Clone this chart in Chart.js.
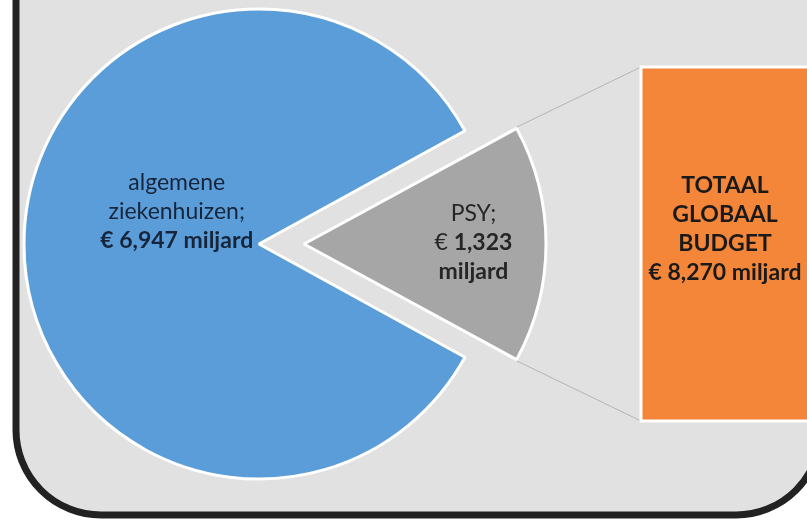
<!DOCTYPE html>
<html lang="nl">
<head>
  <meta charset="UTF-8">
  <title>Globaal budget</title>
  <script src="https://cdn.jsdelivr.net/npm/chart.js"></script>
  <style>
    html, body { margin: 0; padding: 0; background: #fff; }
    canvas { display: block; }
  </style>
</head>
<body>
  <canvas id="budgetChart" width="807" height="520"></canvas>

  <script>
    // data (miljard euro)
    const categories = ['algemene ziekenhuizen', 'PSY'];
    const budget = [6.947, 1.323];
    const totalBudget = 8.270;
    const totalLines = ['TOTAAL', 'GLOBAAL', 'BUDGET'];
    const sliceColors = ['#5B9DD9', '#A6A6A6'];

    const FONT = 'Lato, "Open Sans", sans-serif';
    const fmt = v => v.toFixed(3).replace('.', ',');

    // explode the PSY slice, centred on the right side
    const psyAngle = budget[1] / (budget[0] + budget[1]) * 360;

    // orange total box
    const box = { x: 641, y: 67, w: 170, h: 354 };

    function sliceGeom(arc) {
      const p = arc.getProps(['x', 'y', 'startAngle', 'endAngle', 'outerRadius', 'circumference']);
      const o = (arc.options.offset || 0) / 4;
      const mid = (p.startAngle + p.endAngle) / 2;
      const fix = 1 - Math.sin(Math.min(Math.PI, p.circumference || 0));
      return {
        cx: p.x + Math.cos(mid) * o,
        cy: p.y + Math.sin(mid) * o,
        r: p.outerRadius + o * fix,
        start: p.startAngle, end: p.endAngle, mid
      };
    }

    // draw a line made of [text, bold] parts, centred on x
    function drawParts(ctx, parts, x, y, size, color) {
      const fonts = parts.map(p => (p[1] ? 'bold ' : '') + size + 'px ' + FONT);
      let width = 0;
      parts.forEach((p, i) => { ctx.font = fonts[i]; width += ctx.measureText(p[0]).width; });
      let cx = x - width / 2;
      ctx.fillStyle = color;
      ctx.textAlign = 'left';
      ctx.textBaseline = 'middle';
      parts.forEach((p, i) => {
        ctx.font = fonts[i];
        ctx.fillText(p[0], cx, y);
        cx += ctx.measureText(p[0]).width;
      });
    }

    const labelLayout = [
      { k: 0.35, dy: -32, color: '#17253B', lines: v => [
        [['algemene', false]],
        [['ziekenhuizen;', false]],
        [['€ ' + fmt(v) + ' miljard', true]]
      ] },
      { k: 0.70, dy: -1, color: '#262626', lines: v => [
        [['PSY;', false]],
        [['€ ', false], [fmt(v), true]],
        [['miljard', true]]
      ] }
    ];

    const decor = {
      id: 'decor',
      beforeDraw(chart) {
        const ctx = chart.ctx;
        ctx.save();
        ctx.fillStyle = '#fff';
        ctx.fillRect(0, 0, chart.width, chart.height);
        // rounded panel
        const l = 16, t = -120, r = 821, b = 515, rad = 85;
        ctx.beginPath();
        ctx.moveTo(l, t);
        ctx.lineTo(l, b - rad);
        ctx.arcTo(l, b, l + rad, b, rad);
        ctx.lineTo(r - rad, b);
        ctx.arcTo(r, b, r, b - rad, rad);
        ctx.lineTo(r, t);
        ctx.closePath();
        ctx.fillStyle = '#E1E1E1';
        ctx.fill();
        ctx.lineWidth = 7;
        ctx.strokeStyle = '#222';
        ctx.stroke();
        ctx.restore();
      },
      beforeDatasetsDraw(chart) {
        const ctx = chart.ctx;
        const g = sliceGeom(chart.getDatasetMeta(0).data[1]);
        ctx.save();
        ctx.strokeStyle = '#B5B5B5';
        ctx.lineWidth = 1;
        ctx.beginPath();
        ctx.moveTo(g.cx + Math.cos(g.start) * g.r, g.cy + Math.sin(g.start) * g.r);
        ctx.lineTo(box.x, box.y);
        ctx.moveTo(g.cx + Math.cos(g.end) * g.r, g.cy + Math.sin(g.end) * g.r);
        ctx.lineTo(box.x, box.y + box.h);
        ctx.stroke();
        ctx.fillStyle = '#F4863A';
        ctx.fillRect(box.x, box.y, box.w, box.h);
        ctx.strokeStyle = '#fff';
        ctx.lineWidth = 3;
        ctx.strokeRect(box.x, box.y, box.w, box.h);
        ctx.restore();
      },
      afterDatasetsDraw(chart) {
        const ctx = chart.ctx;
        const arcs = chart.getDatasetMeta(0).data;
        const size = 23, lh = 29;
        ctx.save();
        arcs.forEach((arc, i) => {
          const g = sliceGeom(arc);
          const L = labelLayout[i];
          const lines = L.lines(budget[i]);
          const x = g.cx + Math.cos(g.mid) * g.r * L.k;
          const y = g.cy + Math.sin(g.mid) * g.r * L.k + L.dy;
          lines.forEach((parts, j) => {
            drawParts(ctx, parts, x, y + (j - (lines.length - 1) / 2) * lh, size, L.color);
          });
        });
        // total box text
        const all = totalLines.map(t => [[t, true]]).concat([[['€ ' + fmt(totalBudget) + ' miljard', true]]]);
        const bx = 725, by = box.y + 119;
        all.forEach((parts, j) => drawParts(ctx, parts, bx, by + j * lh, size, '#1A1A1A'));
        ctx.restore();
      }
    };

    new Chart(document.getElementById('budgetChart'), {
      type: 'pie',
      data: {
        labels: categories,
        datasets: [{
          data: budget,
          backgroundColor: sliceColors,
          borderColor: '#fff',
          borderWidth: 3,
          offset: [0, 180],
          hoverOffset: 0,
          clip: false
        }]
      },
      options: {
        responsive: false,
        devicePixelRatio: 1,
        animation: false,
        events: [],
        rotation: 90 + psyAngle / 2,
        radius: 235,
        layout: { padding: { left: 0, top: 0, right: 289, bottom: 32 } },
        plugins: {
          legend: { display: false },
          tooltip: { enabled: false }
        }
      },
      plugins: [decor]
    });
  </script>
</body>
</html>
